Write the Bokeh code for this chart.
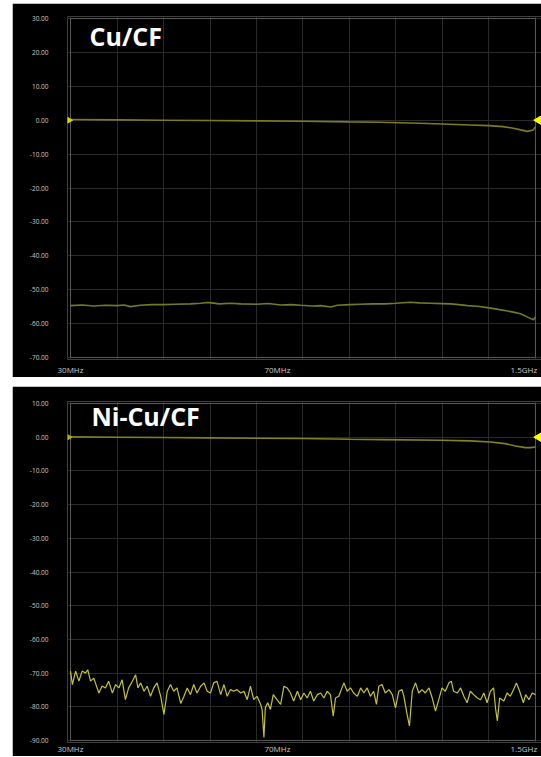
from bokeh.plotting import figure
from bokeh.layouts import column
from bokeh.models import Range1d, FixedTicker, Label, PrintfTickFormatter
from bokeh.embed import file_html
from bokeh.resources import INLINE
import numpy as np

# ---- data (x in screen divisions 0..10 of the analyser sweep, y in dB) ----
FREQ_TICKS = [0.0, 4.45, 9.75]
FREQ_LABELS = ["30MHz", "70MHz", "1.5GHz"]

TOP_RANGE = (-70, 30)
BOT_RANGE = (-90, 10)

# Cu/CF panel: through (reference) trace
cu_ref_x = [0, 1, 2, 3, 4, 5, 6, 6.67, 7.5, 8, 8.6, 9.0, 9.3, 9.5, 9.68, 9.83, 9.95, 10]
cu_ref_db = [0.2, 0.1, 0.0, -0.1, -0.2, -0.3, -0.5, -0.6, -0.9, -1.1, -1.4, -1.6, -1.9, -2.3, -2.85, -3.3, -2.9, -1.9]

# Cu/CF panel: shielded trace
cu_x = [0.00, 0.25, 0.50, 0.75, 1.00, 1.15, 1.29, 1.50, 1.75, 2.00,
        2.25, 2.58, 2.80, 2.95, 3.03, 3.20, 3.45, 3.66, 4.00, 4.25,
        4.52, 4.75, 4.95, 5.20, 5.38, 5.60, 5.74, 6.00, 6.24, 6.50,
        6.77, 7.00, 7.31, 7.50, 7.74, 8.00, 8.17, 8.35, 8.54, 8.75,
        8.97, 9.20, 9.40, 9.55, 9.68, 9.83, 9.96, 10.00]
cu_db = [-54.7, -54.5, -54.8, -54.6, -54.7, -54.5, -55.0, -54.6, -54.4, -54.4,
         -54.3, -54.2, -54.0, -53.8, -53.9, -54.2, -54.0, -54.2, -54.3, -54.1,
         -54.5, -54.4, -54.6, -54.8, -54.7, -55.1, -54.6, -54.4, -54.3, -54.2,
         -54.2, -54.0, -53.7, -53.9, -54.0, -54.1, -54.2, -54.4, -54.7, -54.9,
         -55.3, -55.8, -56.3, -56.7, -57.1, -58.1, -58.9, -58.0]

# Ni-Cu/CF panel: through (reference) trace
ni_ref_x = [0, 1, 2, 3, 4, 5, 6, 6.67, 7.96, 8.6, 9.03, 9.35, 9.57, 9.78, 9.9, 10]
ni_ref_db = [0.1, 0.0, -0.1, -0.2, -0.3, -0.4, -0.6, -0.7, -0.9, -1.1, -1.4, -1.9, -2.6, -3.1, -3.1, -2.9]

# Ni-Cu/CF panel: shielded trace
ni_x = [0.00, 0.04, 0.11, 0.18, 0.25, 0.32, 0.37, 0.43, 0.50, 0.61,
        0.68, 0.75, 0.82, 0.90, 0.97, 1.04, 1.11, 1.18, 1.25, 1.33,
        1.40, 1.45, 1.51, 1.58, 1.65, 1.72, 1.79, 1.86, 1.94, 2.01,
        2.08, 2.15, 2.22, 2.29, 2.37, 2.44, 2.51, 2.58, 2.65, 2.72,
        2.80, 2.87, 2.94, 3.01, 3.08, 3.15, 3.23, 3.30, 3.37, 3.44,
        3.51, 3.58, 3.66, 3.73, 3.80, 3.87, 3.94, 4.01, 4.09, 4.12,
        4.16, 4.19, 4.24, 4.30, 4.36, 4.44, 4.52, 4.59, 4.66, 4.73,
        4.80, 4.88, 4.95, 5.02, 5.09, 5.16, 5.23, 5.31, 5.38, 5.45,
        5.52, 5.59, 5.65, 5.70, 5.77, 5.88, 5.95, 6.02, 6.09, 6.17,
        6.24, 6.31, 6.38, 6.45, 6.52, 6.58, 6.63, 6.70, 6.77, 6.85,
        6.92, 6.99, 7.06, 7.13, 7.17, 7.24, 7.29, 7.35, 7.42, 7.49,
        7.56, 7.63, 7.71, 7.78, 7.85, 7.92, 7.99, 8.06, 8.14, 8.19,
        8.24, 8.32, 8.39, 8.46, 8.53, 8.60, 8.67, 8.75, 8.82, 8.89,
        8.96, 9.03, 9.10, 9.14, 9.18, 9.23, 9.32, 9.39, 9.46, 9.53,
        9.59, 9.66, 9.74, 9.79, 9.86, 9.93, 10.00]
ni_db = [-69.4, -73.4, -69.4, -72.4, -69.4, -70.0, -69.0, -72.4, -71.5, -75.9,
         -73.8, -74.4, -72.4, -75.9, -73.4, -74.4, -72.0, -77.9, -74.4, -72.4,
         -70.5, -74.4, -72.9, -75.4, -73.9, -76.9, -74.4, -72.9, -76.9, -82.3,
         -75.4, -73.4, -75.4, -74.4, -79.0, -76.9, -74.4, -76.4, -73.4, -75.9,
         -73.9, -72.9, -75.4, -75.9, -72.9, -72.4, -76.4, -73.4, -76.9, -74.9,
         -75.4, -74.9, -75.9, -75.4, -77.9, -73.9, -77.9, -76.9, -79.3, -80.8,
         -89.1, -80.3, -78.8, -80.8, -76.4, -77.9, -79.3, -73.9, -74.4, -75.9,
         -78.3, -75.4, -77.9, -75.9, -77.4, -75.4, -78.3, -76.4, -75.9, -77.4,
         -75.4, -76.4, -82.8, -77.4, -76.9, -72.9, -75.4, -74.4, -75.9, -76.9,
         -74.4, -75.9, -74.4, -76.9, -75.4, -79.3, -73.9, -73.4, -75.9, -74.9,
         -76.4, -80.3, -75.4, -74.9, -76.9, -82.3, -85.7, -75.4, -72.9, -75.9,
         -74.9, -75.9, -74.4, -77.4, -81.3, -77.9, -74.4, -75.4, -72.9, -72.4,
         -75.4, -75.9, -74.4, -76.9, -78.8, -75.4, -76.4, -77.4, -77.9, -75.9,
         -78.8, -75.4, -74.4, -80.3, -84.2, -77.4, -78.3, -75.9, -76.9, -74.9,
         -72.9, -75.4, -78.8, -76.4, -77.9, -75.9, -76.4]

REF_LEVEL = 0.0


def make_panel(title, yr, height, top_border, bottom_border, title_x, title_y,
               label_standoff, margin):
    y_lo, y_hi = yr
    p = figure(width=529, height=height, output_backend="svg", toolbar_location=None,
               x_range=Range1d(-0.065, 10.13), y_range=Range1d(y_lo - 0.6, y_hi + 0.6),
               min_border_left=55, min_border_right=0,
               min_border_top=top_border, min_border_bottom=bottom_border,
               background_fill_color="black", border_fill_color="black",
               outline_line_color=None, margin=margin)
    p.xgrid.ticker = FixedTicker(ticks=list(range(0, 11)))
    p.ygrid.ticker = FixedTicker(ticks=list(range(y_lo, y_hi + 1, 10)))
    p.grid.grid_line_color = "#2a2a2a"
    p.grid.grid_line_width = 1

    p.xaxis.ticker = FixedTicker(ticks=FREQ_TICKS)
    p.xaxis.major_label_overrides = {t: l for t, l in zip(FREQ_TICKS, FREQ_LABELS)}
    p.xaxis.major_label_text_font_size = "8px"
    p.xaxis.major_label_text_line_height = 1.0
    p.xaxis.major_label_standoff = label_standoff
    p.yaxis.ticker = FixedTicker(ticks=list(range(y_lo, y_hi + 1, 10)))
    p.yaxis.formatter = PrintfTickFormatter(format="%.2f")
    p.yaxis.major_label_text_font_size = "6.5px"
    p.yaxis.major_label_standoff = 19
    for ax in (p.xaxis[0], p.yaxis[0]):
        ax.axis_line_color = None
        ax.major_tick_line_color = None
        ax.minor_tick_line_color = None
        ax.major_tick_out = 0
        ax.major_tick_in = 0
        ax.minor_tick_out = 0
        ax.minor_tick_in = 0
        ax.axis_label_standoff = 0
        ax.major_label_text_font = "Open Sans"
        ax.major_label_text_color = "#c8c8c8"

    # graticule frame
    p.quad(left=[0], right=[10], bottom=[y_lo], top=[y_hi],
           fill_color=None, line_color="#5a5a5a", line_width=1)

    p.add_layout(Label(x=title_x, y=title_y, text=title, text_color="white",
                       text_font="Open Sans", text_font_style="bold",
                       text_font_size="25px", text_baseline="alphabetic"))
    return p


p1 = make_panel("Cu/CF", TOP_RANGE, 374, 13, 17, 0.41, 24.7, 4, (3, 0, 0, 12))
p1.line(cu_ref_x, cu_ref_db, line_color="#7c7c1c", line_width=1.6)
p1.line(cu_x, cu_db, line_color="#737a24", line_width=1.6)
p1.scatter(x=[-0.03], y=[REF_LEVEL], marker="triangle", size=6, angle=-np.pi / 2,
           color="#d6d600")
p1.scatter(x=[10.1], y=[REF_LEVEL], marker="triangle", size=11, angle=np.pi / 2,
           color="#ffff00")

p2 = make_panel("Ni-Cu/CF", BOT_RANGE, 370, 15, 11, 0.45, 6.4, 0, (0, 0, 0, 12))
p2.line(ni_ref_x, ni_ref_db, line_color="#82821e", line_width=1.6)
p2.line(ni_x, ni_db, line_color="#c4c236", line_width=1.2)
p2.scatter(x=[-0.03], y=[REF_LEVEL], marker="triangle", size=5, angle=-np.pi / 2,
           color="#b0b000")
p2.scatter(x=[10.1], y=[REF_LEVEL], marker="triangle", size=11, angle=np.pi / 2,
           color="#ffff00")

layout = column(p1, p2, spacing=9)
open("out.html", "w").write(file_html(layout, INLINE))
